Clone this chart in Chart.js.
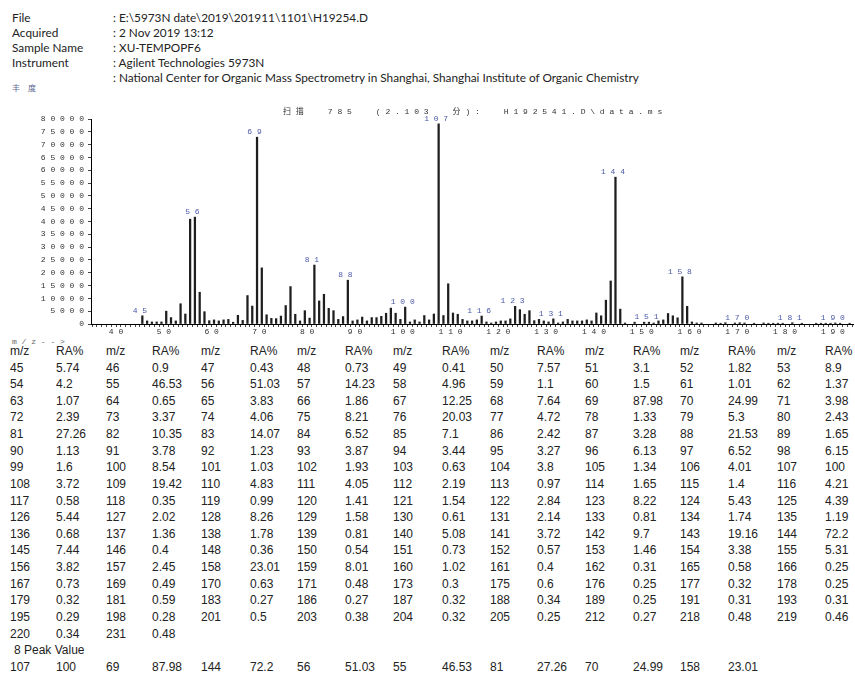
<!DOCTYPE html>
<html>
<head>
<meta charset="utf-8">
<script src="https://cdn.jsdelivr.net/npm/chart.js@4"></script>
<style>
  body { margin: 0; background: #fff; width: 855px; height: 673px; overflow: hidden; position: relative; }
  .t { position: absolute; white-space: nowrap; color: #222; }
  .hdr { font: 11.8px Lato, sans-serif; line-height: 15px; }
  .cell { font: 12px 'Liberation Sans', Arial, sans-serif; line-height: 14px; }
  .mono { font: 8px 'Liberation Mono', monospace; color: #666; }
  #ms { position: absolute; left: 0; top: 95px; }
</style>
</head>
<body>
<div id="page"></div>
<canvas id="ms" width="855" height="250"></canvas>
<script>
// header info
const infoLabels = ['File', 'Acquired', 'Sample Name', 'Instrument', ''];
const infoValues = [
    ': E:\\5973N date\\2019\\201911\\1101\\H19254.D',
    ': 2 Nov 2019 13:12',
    ': XU-TEMPOPF6',
    ': Agilent Technologies 5973N',
    ': National Center for Organic Mass Spectrometry in Shanghai, Shanghai Institute of Organic Chemistry'
];

// spectrum
const mz = [
    45, 46, 47, 48, 49, 50, 51, 52, 53, 54,
    55, 56, 57, 58, 59, 60, 61, 62, 63, 64,
    65, 66, 67, 68, 69, 70, 71, 72, 73, 74,
    75, 76, 77, 78, 79, 80, 81, 82, 83, 84,
    85, 86, 87, 88, 89, 90, 91, 92, 93, 94,
    95, 96, 97, 98, 99, 100, 101, 102, 103, 104,
    105, 106, 107, 108, 109, 110, 111, 112, 113, 114,
    115, 116, 117, 118, 119, 120, 121, 122, 123, 124,
    125, 126, 127, 128, 129, 130, 131, 132, 133, 134,
    135, 136, 137, 138, 139, 140, 141, 142, 143, 144,
    145, 146, 148, 150, 151, 152, 153, 154, 155, 156,
    157, 158, 159, 160, 161, 162, 165, 166, 167, 169,
    170, 171, 173, 175, 176, 177, 178, 179, 181, 183,
    186, 187, 188, 189, 190, 191, 193
];
const abundance = [
    3200, 1200, 800, 800, 800, 5000, 2500, 1200, 7900, 3900,
    40900, 41700, 12400, 4800, 1300, 1600, 1200, 1600, 1800, 700,
    3400, 1400, 11100, 7000, 72900, 21900, 3600, 2200, 2100, 3100,
    7200, 14600, 3800, 1200, 5200, 2300, 23000, 9000, 11600, 6100,
    5200, 1800, 2900, 17100, 1200, 1600, 2700, 1200, 2500, 2500,
    3000, 4200, 6200, 4200, 1800, 6600, 800, 1600, 800, 3300,
    1600, 3900, 78100, 3300, 15700, 4300, 3800, 1800, 1200, 1200,
    1600, 3100, 800, 400, 800, 1200, 1200, 2000, 6900, 5600,
    3800, 5200, 1300, 1800, 1200, 800, 2000, 400, 800, 1800,
    1200, 1200, 1200, 1600, 1200, 4300, 3200, 9300, 16800, 57300,
    5800, 400, 700, 700, 700, 400, 1200, 1600, 4100, 3200,
    2400, 18400, 6900, 800, 400, 400, 400, 300, 500, 400,
    500, 400, 300, 400, 300, 300, 300, 300, 500, 300,
    300, 300, 300, 300, 400, 300, 300
];
const peakLabels = [45, 56, 69, 81, 88, 100, 107, 116, 123, 131, 144, 151, 158, 170, 181, 190];
const yTicks = { min: 0, max: 80000, step: 5000 };
const plotTitle = '扫描 785 (2.103 分): H192541.D\\data.ms';

// table
const tableMz = [
    45, 46, 47, 48, 49, 50, 51, 52, 53,
    54, 55, 56, 57, 58, 59, 60, 61, 62,
    63, 64, 65, 66, 67, 68, 69, 70, 71,
    72, 73, 74, 75, 76, 77, 78, 79, 80,
    81, 82, 83, 84, 85, 86, 87, 88, 89,
    90, 91, 92, 93, 94, 95, 96, 97, 98,
    99, 100, 101, 102, 103, 104, 105, 106, 107,
    108, 109, 110, 111, 112, 113, 114, 115, 116,
    117, 118, 119, 120, 121, 122, 123, 124, 125,
    126, 127, 128, 129, 130, 131, 133, 134, 135,
    136, 137, 138, 139, 140, 141, 142, 143, 144,
    145, 146, 148, 150, 151, 152, 153, 154, 155,
    156, 157, 158, 159, 160, 161, 162, 165, 166,
    167, 169, 170, 171, 173, 175, 176, 177, 178,
    179, 181, 183, 186, 187, 188, 189, 191, 193,
    195, 198, 201, 203, 204, 205, 212, 218, 219,
    220, 231
];
const tableRa = [
    '5.74', '0.9', '0.43', '0.73', '0.41', '7.57', '3.1', '1.82', '8.9',
    '4.2', '46.53', '51.03', '14.23', '4.96', '1.1', '1.5', '1.01', '1.37',
    '1.07', '0.65', '3.83', '1.86', '12.25', '7.64', '87.98', '24.99', '3.98',
    '2.39', '3.37', '4.06', '8.21', '20.03', '4.72', '1.33', '5.3', '2.43',
    '27.26', '10.35', '14.07', '6.52', '7.1', '2.42', '3.28', '21.53', '1.65',
    '1.13', '3.78', '1.23', '3.87', '3.44', '3.27', '6.13', '6.52', '6.15',
    '1.6', '8.54', '1.03', '1.93', '0.63', '3.8', '1.34', '4.01', '100',
    '3.72', '19.42', '4.83', '4.05', '2.19', '0.97', '1.65', '1.4', '4.21',
    '0.58', '0.35', '0.99', '1.41', '1.54', '2.84', '8.22', '5.43', '4.39',
    '5.44', '2.02', '8.26', '1.58', '0.61', '2.14', '0.81', '1.74', '1.19',
    '0.68', '1.36', '1.78', '0.81', '5.08', '3.72', '9.7', '19.16', '72.2',
    '7.44', '0.4', '0.36', '0.54', '0.73', '0.57', '1.46', '3.38', '5.31',
    '3.82', '2.45', '23.01', '8.01', '1.02', '0.4', '0.31', '0.58', '0.25',
    '0.73', '0.49', '0.63', '0.48', '0.3', '0.6', '0.25', '0.32', '0.25',
    '0.32', '0.59', '0.27', '0.27', '0.32', '0.34', '0.25', '0.31', '0.31',
    '0.29', '0.28', '0.5', '0.38', '0.32', '0.25', '0.27', '0.48', '0.46',
    '0.34', '0.48'
];
const peakMz = [107, 69, 144, 56, 55, 81, 70, 158];
const peakRa = ['100', '87.98', '72.2', '51.03', '46.53', '27.26', '24.99', '23.01'];

const spaced = s => String(s).split('').join(' ');

// ---- page text ----
const page = document.getElementById('page');
function put(cls, text, x, y, extra) {
    const d = document.createElement('div');
    d.className = 't ' + cls;
    d.textContent = text;
    d.style.left = x + 'px';
    d.style.top = y + 'px';
    if (extra) Object.assign(d.style, extra);
    page.appendChild(d);
}

infoLabels.forEach((l, i) => {
    put('hdr', l, 12, 10 + i * 15);
    put('hdr', infoValues[i], 113, 10 + i * 15);
});
put('mono', '丰度', 12, 82, { font: "8px 'Noto Sans CJK SC', sans-serif", color: '#5a6690', letterSpacing: '8px' });
put('mono', spaced('m/z-->'), 12, 337);

const colX = [10, 56, 106, 152, 201, 250, 297, 345, 393, 442, 490, 537, 585, 633, 680, 728, 777, 825];
const rowY = i => 367.6 + i * 16.62 - 7;

for (let c = 0; c < 9; c++) {
    put('cell', 'm/z', colX[c * 2], 344);
    put('cell', 'RA%', colX[c * 2 + 1], 344);
}
tableMz.forEach((m, i) => {
    const r = Math.floor(i / 9), c = i % 9;
    put('cell', String(m), colX[c * 2], rowY(r));
    put('cell', tableRa[i], colX[c * 2 + 1], rowY(r));
});
const lastRow = Math.ceil(tableMz.length / 9);
put('cell', '8 Peak Value', 14, rowY(lastRow));
peakMz.forEach((m, c) => {
    put('cell', String(m), colX[c * 2], rowY(lastRow + 1));
    put('cell', peakRa[c], colX[c * 2 + 1], rowY(lastRow + 1));
});

// ---- spectrum ----
const monoFont = "8px 'Liberation Mono', 'Noto Sans CJK SC', monospace";
const titleText = plotTitle.split(' ').map(spaced).join('     ');

const spectrumText = {
    id: 'spectrumText',
    afterDatasetsDraw(chart) {
        const ctx = chart.ctx;
        const meta = chart.getDatasetMeta(0);
        ctx.save();
        ctx.font = monoFont;
        ctx.fillStyle = '#4a58a8';
        ctx.textAlign = 'center';
        ctx.textBaseline = 'bottom';
        peakLabels.forEach(m => {
            const el = meta.data[mz.indexOf(m)];
            if (el) ctx.fillText(spaced(m), el.x - 2.5, el.y - 1);
        });
        ctx.fillStyle = '#333';
        ctx.textAlign = 'left';
        ctx.textBaseline = 'middle';
        ctx.fillText(titleText, 283, 17);
        ctx.restore();
    }
};

new Chart(document.getElementById('ms'), {
    type: 'bar',
    data: {
        datasets: [{
            data: mz.map((m, i) => ({ x: m, y: abundance[i] })),
            backgroundColor: '#1e1e1e',
            barThickness: 1.6
        }]
    },
    options: {
        responsive: false,
        animation: false,
        devicePixelRatio: 1,
        layout: { padding: { top: 24, right: 2, left: 0, bottom: 0 } },
        plugins: {
            legend: { display: false },
            tooltip: { enabled: false },
            title: { display: false }
        },
        scales: {
            x: {
                type: 'linear',
                min: 34.76,
                max: 193.2,
                afterFit: s => { s.height = 21; },
                border: { color: '#000', width: 1 },
                grid: { drawOnChartArea: false, tickLength: 3, tickColor: '#444' },
                ticks: {
                    stepSize: 1,
                    autoSkip: false,
                    includeBounds: false,
                    maxRotation: 0,
                    minRotation: 0,
                    padding: 0,
                    color: '#333',
                    font: { family: "'Liberation Mono', monospace", size: 8 },
                    callback: v => (v % 10 === 0 ? spaced(v) + ' ' : '')
                }
            },
            y: {
                min: yTicks.min,
                max: yTicks.max,
                afterFit: s => { s.width = 91; },
                border: { color: '#000', width: 1 },
                grid: { drawOnChartArea: false, tickLength: 3, tickColor: '#444' },
                ticks: {
                    stepSize: yTicks.step,
                    autoSkip: false,
                    padding: 4,
                    color: '#333',
                    font: { family: "'Liberation Mono', monospace", size: 8 },
                    callback: v => spaced(v)
                }
            }
        }
    },
    plugins: [spectrumText]
});
</script>
</body>
</html>
